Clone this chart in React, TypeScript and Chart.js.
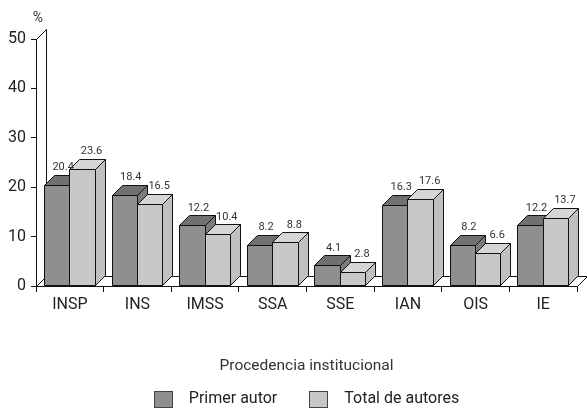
import React, { useEffect, useRef } from 'react';
import { Chart, registerables } from 'chart.js';

Chart.register(...registerables);

const categories = ['INSP', 'INS', 'IMSS', 'SSA', 'SSE', 'IAN', 'OIS', 'IE'];
const primerAutor = [20.4, 18.4, 12.2, 8.2, 4.1, 16.3, 8.2, 12.2];
const totalAutores = [23.6, 16.5, 10.4, 8.8, 2.8, 17.6, 6.6, 13.7];
const seriesNames = ['Primer autor', 'Total de autores'];
const yMin = 0;
const yMax = 50;
const yStep = 10;
const axisTitle = 'Procedencia institucional';
const unitLabel = '%';

const FONT = 'Roboto, "Open Sans", sans-serif';
const DEPTH = 10;
const labelShift = [6, 9];
const faceColors = [
  { front: '#8f8f91', top: '#707072', side: '#7c7c7e' },
  { front: '#c8c8ca', top: '#d5d5d7', side: '#c0c0c2' },
];

const al = (p: number) => Math.round(p - 0.5) + 0.5;

function poly(ctx: CanvasRenderingContext2D, pts: number[][], fill: string | null) {
  ctx.beginPath();
  ctx.moveTo(pts[0][0], pts[0][1]);
  for (let i = 1; i < pts.length; i++) ctx.lineTo(pts[i][0], pts[i][1]);
  ctx.closePath();
  if (fill) {
    ctx.fillStyle = fill;
    ctx.fill();
  }
  ctx.stroke();
}

const threeDPlugin = {
  id: 'threeD',
  beforeDatasetsDraw(chart: any) {
    const { ctx, chartArea } = chart;
    const yScale = chart.scales.y;
    const L = al(chartArea.left);
    const R = al(chartArea.right);
    const B = al(chartArea.bottom);
    const T = al(yScale.getPixelForValue(yMax));
    const D = DEPTH;
    ctx.save();
    ctx.strokeStyle = '#111';
    ctx.lineWidth = 1;
    poly(ctx, [[L, B], [R, B], [R + D, B - D], [L + D, B - D]], '#ffffff');
    ctx.beginPath();
    ctx.moveTo(L, T);
    ctx.lineTo(L + D, T - D);
    ctx.lineTo(L + D, B - D);
    ctx.stroke();
    ctx.restore();
  },
  afterDatasetsDraw(chart: any) {
    const { ctx } = chart;
    const D = DEPTH;
    ctx.save();
    ctx.strokeStyle = '#111';
    ctx.lineWidth = 1;
    chart.data.datasets.forEach((ds: any, di: number) => {
      const meta = chart.getDatasetMeta(di);
      const colors = faceColors[di];
      meta.data.forEach((el: any) => {
        const { x, y, base, width } = el.getProps(['x', 'y', 'base', 'width'], true);
        const l = al(x - width / 2);
        const r = al(x + width / 2);
        const t = al(y);
        const b = al(base);
        poly(ctx, [[l, t], [r, t], [r, b], [l, b]], colors.front);
        poly(ctx, [[l, t], [r, t], [r + D, t - D], [l + D, t - D]], colors.top);
        poly(ctx, [[r, t], [r + D, t - D], [r + D, b - D], [r, b]], colors.side);
      });
    });
    ctx.font = '11px ' + FONT;
    ctx.fillStyle = '#333';
    ctx.textAlign = 'center';
    ctx.textBaseline = 'alphabetic';
    chart.data.datasets.forEach((ds: any, di: number) => {
      const meta = chart.getDatasetMeta(di);
      meta.data.forEach((el: any, i: number) => {
        const { x, y } = el.getProps(['x', 'y'], true);
        ctx.fillText(String(ds.data[i]), x + labelShift[di], y - D - 5);
      });
    });
    const yScale = chart.scales.y;
    ctx.font = '14px ' + FONT;
    ctx.textBaseline = 'middle';
    ctx.fillText(unitLabel, chart.chartArea.left + 2, yScale.getPixelForValue(yMax) - 21);
    ctx.restore();
  },
  afterDraw(chart: any) {
    const { ctx, chartArea } = chart;
    ctx.save();
    ctx.font = '16px ' + FONT;
    const boxW = 18;
    const boxH = 16;
    const gap = 17;
    const itemGap = 32;
    const items = chart.data.datasets.map((ds: any, i: number) => ({
      text: ds.label,
      color: faceColors[i].front,
      w: ctx.measureText(ds.label).width,
    }));
    let total = 0;
    items.forEach((it: any, i: number) => {
      total += boxW + gap + it.w + (i < items.length - 1 ? itemGap : 0);
    });
    let x = (chartArea.left + chartArea.right) / 2 - total / 2;
    const cy = 399;
    ctx.textBaseline = 'middle';
    ctx.textAlign = 'left';
    ctx.lineWidth = 1;
    ctx.strokeStyle = '#444';
    items.forEach((it: any) => {
      const bx = Math.round(x) + 0.5;
      const by = Math.round(cy - boxH / 2) + 0.5;
      ctx.fillStyle = it.color;
      ctx.fillRect(bx, by, boxW, boxH);
      ctx.strokeRect(bx, by, boxW, boxH);
      ctx.fillStyle = '#222';
      ctx.fillText(it.text, x + boxW + gap, cy);
      x += boxW + gap + it.w + itemGap;
    });
    ctx.restore();
  },
};

export default function App() {
  const canvasRef = useRef<HTMLCanvasElement | null>(null);

  useEffect(() => {
    if (!canvasRef.current) return;
    const chart = new Chart(canvasRef.current, {
      type: 'bar',
      data: {
        labels: categories,
        datasets: [
          {
            label: seriesNames[0],
            data: primerAutor,
            backgroundColor: faceColors[0].front,
            borderWidth: 0,
            categoryPercentage: 0.75,
            barPercentage: 1,
          },
          {
            label: seriesNames[1],
            data: totalAutores,
            backgroundColor: faceColors[1].front,
            borderWidth: 0,
            categoryPercentage: 0.75,
            barPercentage: 1,
          },
        ],
      },
      options: {
        responsive: false,
        animation: false,
        events: [],
        layout: { padding: { top: 39, right: 10, bottom: 0, left: 0 } },
        plugins: {
          legend: { display: false },
          tooltip: { enabled: false },
        },
        scales: {
          x: {
            offset: true,
            grid: {
              offset: true,
              drawOnChartArea: false,
              drawTicks: true,
              tickLength: 6,
              color: '#111',
            },
            border: { display: true, color: '#111', width: 1 },
            ticks: {
              color: '#222',
              padding: 3,
              font: { family: FONT, size: 16 },
              maxRotation: 0,
            },
            title: {
              display: true,
              text: axisTitle,
              color: '#333',
              font: { family: FONT, size: 15.5 },
              padding: { top: 0, bottom: 33 },
            },
            afterFit: (s: any) => {
              s.height = 122;
            },
          },
          y: {
            min: yMin,
            max: yMax,
            ticks: {
              stepSize: yStep,
              color: '#222',
              padding: 5,
              font: { family: FONT, size: 16 },
            },
            grid: {
              drawOnChartArea: false,
              drawTicks: true,
              tickLength: 5,
              color: '#111',
            },
            border: { display: true, color: '#111', width: 1 },
            afterFit: (s: any) => {
              s.width = 36;
            },
          },
        },
      },
      plugins: [threeDPlugin],
    });
    return () => chart.destroy();
  }, []);

  return (
    <div style={{ position: 'fixed', left: 0, top: 0, width: 587, height: 408, background: '#fff' }}>
      <canvas ref={canvasRef} width={587} height={408} style={{ display: 'block', width: 587, height: 408 }} />
    </div>
  );
}
